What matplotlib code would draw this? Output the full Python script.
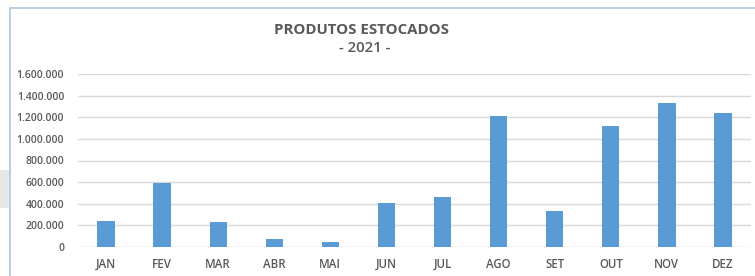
import matplotlib
matplotlib.use("Agg")
import matplotlib.pyplot as plt
from matplotlib.patches import Rectangle
from matplotlib.ticker import FuncFormatter

months = ["JAN", "FEV", "MAR", "ABR", "MAI", "JUN", "JUL", "AGO", "SET", "OUT", "NOV", "DEZ"]
values = [240000, 595000, 225000, 68000, 45000, 410000, 465000, 1212000, 335000, 1117000, 1332000, 1243000]
yticks = [0, 200000, 400000, 600000, 800000, 1000000, 1200000, 1400000, 1600000]
title1 = "PRODUTOS ESTOCADOS"
title2 = "- 2021 -"

W, H = 755, 276
fig = plt.figure(figsize=(W / 100, H / 100), dpi=100)
fig.patch.set_facecolor("white")

# background gray box and chart frame
fig.patches.append(Rectangle((0, 1 - 208 / H), 9 / W, 38 / H, transform=fig.transFigure,
                             facecolor="#E7E7E7", edgecolor="none", zorder=-2))
fig.patches.append(Rectangle((9.5 / W, -0.1), 1.2, 1 - 7.5 / H + 0.1, transform=fig.transFigure,
                             facecolor="none", edgecolor="#A9C8E4", linewidth=1.2, zorder=-1))

ax = fig.add_axes([78 / W, 1 - 246.7 / H, (751 - 78) / W, (246.7 - 74.3) / H])
ax.set_facecolor("none")
ax.bar(range(len(months)), values, width=0.31, color="#5B9BD5", zorder=3)
ax.set_xlim(-0.5, len(months) - 0.5)
ax.set_ylim(0, 1600000)
ax.set_yticks(yticks)
ax.yaxis.set_major_formatter(FuncFormatter(lambda v, p: f"{int(v):,}".replace(",", ".")))
ax.set_xticks(range(len(months)))
ax.set_xticklabels(months)
ax.grid(axis="y", color="#D9D9D9", linewidth=1, zorder=0)
for s in ax.spines.values():
    s.set_visible(False)
ax.tick_params(axis="both", length=0, colors="#595959")
ax.tick_params(axis="y", pad=10, labelsize=7.5)
ax.tick_params(axis="x", pad=8, labelsize=8.3)
for lab in ax.get_xticklabels() + ax.get_yticklabels():
    lab.set_fontfamily("Open Sans")
    lab.set_fontweight("semibold")

fig.text(362 / W, 1 - 29.5 / H, title1, ha="center", va="center", fontsize=10.8,
         fontweight="bold", color="#595959", family="Open Sans")
fig.text(365 / W, 1 - 48.5 / H, title2, ha="center", va="center", fontsize=10.8,
         fontweight="semibold", color="#595959", family="Open Sans")

fig.savefig("out.png", dpi=100)
